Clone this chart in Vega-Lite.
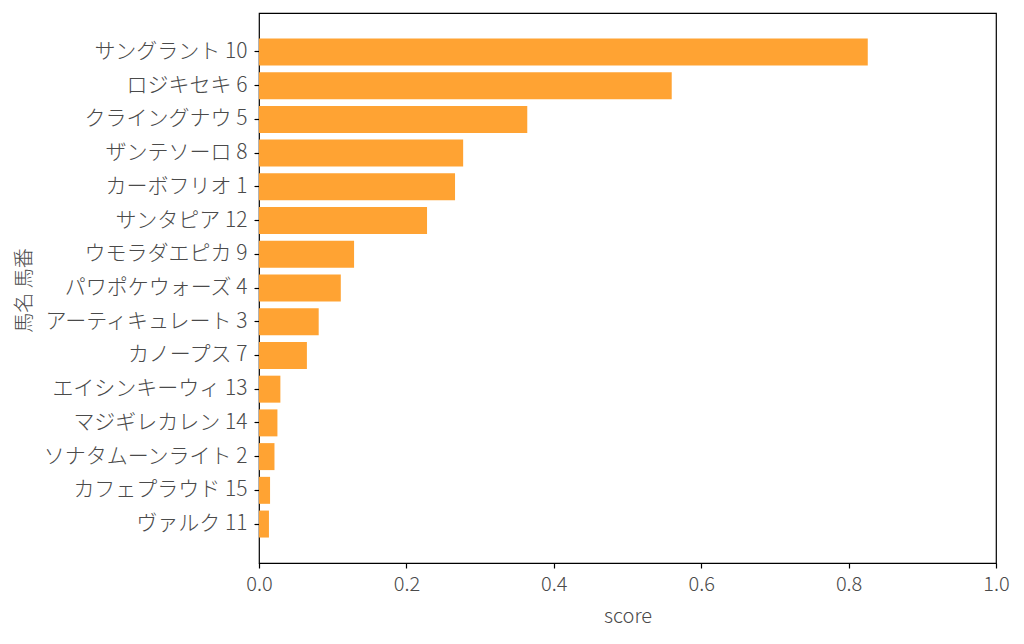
{
  "$schema": "https://vega.github.io/schema/vega-lite/v6.json",
  "autosize": {"type": "none"},
  "padding": {"left": 259, "top": 13, "right": 28, "bottom": 81},
  "width": 737,
  "height": 550,
  "background": "white",
  "config": {
    "font": "Noto Sans CJK JP",
    "view": {"stroke": "black", "strokeWidth": 1.2},
    "axis": {
      "labelFont": "Noto Sans CJK JP Light, Noto Sans CJK JP",
      "titleFont": "Noto Sans CJK JP Light, Noto Sans CJK JP",
      "labelFontSize": 20,
      "titleFontSize": 20,
      "labelFontWeight": 300,
      "titleFontWeight": 300,
      "labelColor": "#4a4a4a",
      "titleColor": "#4a4a4a",
      "labelLimit": 400,
      "domain": false,
      "grid": false,
      "tickColor": "black",
      "tickSize": 5,
      "tickWidth": 1.2
    }
  },
  "data": {
    "values": [
      {"name": "サングラント 10", "score": 0.826},
      {"name": "ロジキセキ 6", "score": 0.560},
      {"name": "クライングナウ 5", "score": 0.364},
      {"name": "ザンテソーロ 8", "score": 0.277},
      {"name": "カーボフリオ 1", "score": 0.266},
      {"name": "サンタピア 12", "score": 0.228},
      {"name": "ウモラダエピカ 9", "score": 0.129},
      {"name": "パワポケウォーズ 4", "score": 0.111},
      {"name": "アーティキュレート 3", "score": 0.081},
      {"name": "カノープス 7", "score": 0.065},
      {"name": "エイシンキーウィ 13", "score": 0.029},
      {"name": "マジギレカレン 14", "score": 0.025},
      {"name": "ソナタムーンライト 2", "score": 0.021},
      {"name": "カフェプラウド 15", "score": 0.015},
      {"name": "ヴァルク 11", "score": 0.0135}
    ]
  },
  "mark": {"type": "bar", "color": "#ffa333"},
  "encoding": {
    "y": {
      "field": "name",
      "type": "nominal",
      "sort": null,
      "scale": {"paddingInner": 0.2, "paddingOuter": 0.755},
      "axis": {"title": "馬名 馬番", "labelPadding": 7, "labelFontSize": 21, "titleX": -235, "titleY": 277, "titleBaseline": "middle", "titleAngle": 270, "titleAlign": "center"}
    },
    "x": {
      "field": "score",
      "type": "quantitative",
      "scale": {"domain": [0, 1], "nice": false},
      "axis": {"title": "score", "values": [0, 0.2, 0.4, 0.6, 0.8, 1.0], "format": ".1f", "labelPadding": 6, "titlePadding": 12, "labelFlush": false}
    }
  }
}
